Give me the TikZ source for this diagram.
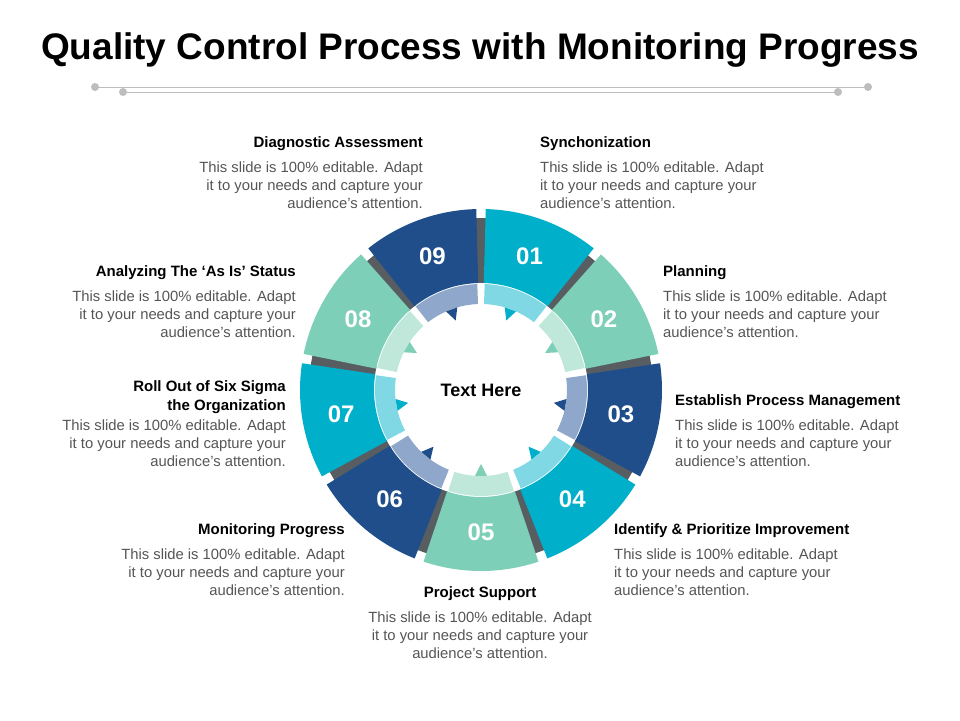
\documentclass[tikz,border=0pt]{standalone}
\usepackage{fontspec}
\setmainfont{Liberation Sans}
\usetikzlibrary{positioning}
\definecolor{qcyan}{HTML}{00AFC9}
\definecolor{qgreen}{HTML}{7ECFB7}
\definecolor{qblue}{HTML}{1F4E8A}
\definecolor{qcyanlt}{HTML}{80D8E5}
\definecolor{qgreenlt}{HTML}{BFE8DB}
\definecolor{qbluelt}{HTML}{8FA7CB}
\definecolor{qbar}{HTML}{585D62}
\definecolor{qtext}{HTML}{555555}
\definecolor{qrule}{HTML}{BDBDBD}
\tikzset{
  head/.style={font=\bfseries\fontsize{15}{17}\selectfont, text=black, inner sep=0pt},
  body/.style={font=\fontsize{14.8}{18}\selectfont, text=qtext, inner sep=0pt},
  num/.style={font=\bfseries\fontsize{24}{26}\selectfont, text=white},
}
\begin{document}
\begin{tikzpicture}[x=1pt,y=-1pt]
\useasboundingbox (0,0) rectangle (960,720);
% title and rules
\node[font=\bfseries\fontsize{37}{40}\selectfont] (title) at (480,50) {Quality Control Process with Monitoring Progress};
\coordinate (ruleAl) at (95,87);  \coordinate (ruleAr) at (868,87);
\coordinate (ruleBl) at (123,92); \coordinate (ruleBr) at (838,92);
\draw[qrule, line width=0.8pt] (ruleAl) -- (ruleAr);
\draw[qrule, line width=0.8pt] (ruleBl) -- (ruleBr);
\foreach \p in {ruleAl,ruleAr,ruleBl,ruleBr} \fill[qrule] (\p) circle (4);

% ring
\begin{scope}[shift={(481,390)}, y=1pt]
\foreach \b in {90,50,...,-230}
  \draw[qbar, line width=10pt] (\b:107) -- (\b:172);
\foreach \k/\col/\lt [evaluate=\k as \c using 70-40*(\k-1)] in
  {1/qcyan/qcyanlt,2/qgreen/qgreenlt,3/qblue/qbluelt,4/qcyan/qcyanlt,5/qgreen/qgreenlt,
   6/qblue/qbluelt,7/qcyan/qcyanlt,8/qgreen/qgreenlt,9/qblue/qbluelt} {
  \fill[\col] (\c-18.5:107) arc[start angle=\c-18.5, end angle=\c+18.5, radius=107]
     -- (\c+18.5:181) arc[start angle=\c+18.5, end angle=\c-18.5, radius=181] -- cycle;
  \fill[\lt] (\c-18:86) arc[start angle=\c-18, end angle=\c+18, radius=86]
     -- (\c+18:106) arc[start angle=\c+18, end angle=\c-18, radius=106] -- cycle;
  \fill[\col] (\c-4:86) -- (\c+4:86) -- (\c:74) -- cycle;
  \node[num] (num\k) at (\c:142) {0\k};
}
\node[font=\bfseries\fontsize{18}{20}\selectfont] (centre) at (0,0) {Text Here};
\end{scope}

% labels
\node[head, anchor=east] (diag) at (423,144) {Diagnostic Assessment};
\node[body, anchor=north east, align=right] (diagtxt) at (423,162) {This slide is 100\% editable. Adapt\\it to your needs and capture your\\audience's attention.};
\node[head, anchor=west] (sync) at (540,144) {Synchonization};
\node[body, anchor=north west, align=left] (synctxt) at (540,162) {This slide is 100\% editable. Adapt\\it to your needs and capture your\\audience's attention.};
\node[head, anchor=east] (asis) at (296,273) {Analyzing The ‘As Is’ Status};
\node[body, anchor=north east, align=right] (asistxt) at (296,291) {This slide is 100\% editable. Adapt\\it to your needs and capture your\\audience's attention.};
\node[head, anchor=west] (plan) at (663,273) {Planning};
\node[body, anchor=north west, align=left] (plantxt) at (663,291) {This slide is 100\% editable. Adapt\\it to your needs and capture your\\audience's attention.};
\node[head, anchor=east, align=right, font=\bfseries\fontsize{15}{19}\selectfont] (sigma) at (286,397) {Roll Out of Six Sigma\\the Organization};
\node[body, anchor=north east, align=right] (sigmatxt) at (286,420) {This slide is 100\% editable. Adapt\\it to your needs and capture your\\audience's attention.};
\node[head, anchor=west] (estab) at (675,402) {Establish Process Management};
\node[body, anchor=north west, align=left] (estabtxt) at (675,420) {This slide is 100\% editable. Adapt\\it to your needs and capture your\\audience's attention.};
\node[head, anchor=east] (monit) at (345,531) {Monitoring Progress};
\node[body, anchor=north east, align=right] (monittxt) at (345,549) {This slide is 100\% editable. Adapt\\it to your needs and capture your\\audience's attention.};
\node[head, anchor=west] (ident) at (614,531) {Identify \& Prioritize Improvement};
\node[body, anchor=north west, align=left] (identtxt) at (614,549) {This slide is 100\% editable. Adapt\\it to your needs and capture your\\audience's attention.};
\node[head] (proj) at (480,594) {Project Support};
\node[body, anchor=north, align=center] (projtxt) at (480,612) {This slide is 100\% editable. Adapt\\it to your needs and capture your\\audience's attention.};
\end{tikzpicture}
\end{document}
